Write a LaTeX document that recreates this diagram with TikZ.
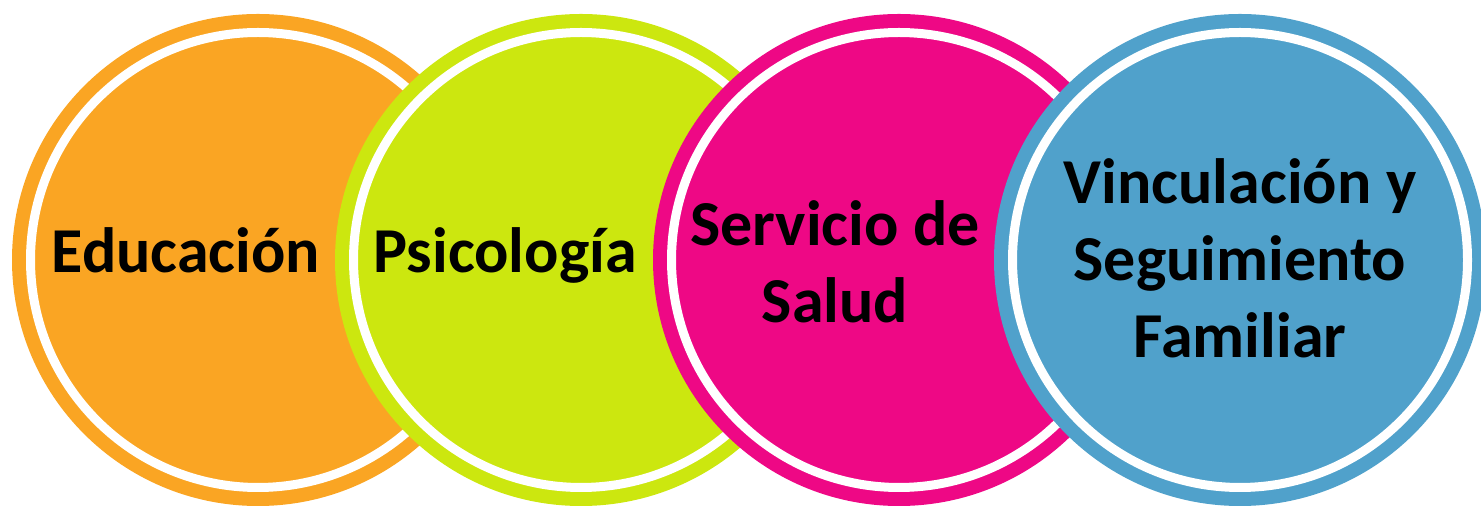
\documentclass[tikz,border=0pt]{standalone}
\usepackage{fontspec}
\setmainfont{Carlito}
\usetikzlibrary{positioning}

\definecolor{orangeC}{HTML}{FAA523}
\definecolor{limeC}{HTML}{CCE70F}
\definecolor{pinkC}{HTML}{EE0885}
\definecolor{blueC}{HTML}{50A1CB}

\tikzset{
  disc/.style={shape=circle,minimum size=246pt,inner sep=0pt,draw=none},
  ring/.style={draw=white,line width=4.5pt},
  lbl/.style={font=\fontsize{32}{38.5}\selectfont\bfseries,align=center,text=black,anchor=base}
}

\begin{document}
\begin{tikzpicture}[x=0.5pt,y=-0.5pt]
\useasboundingbox (0,0) rectangle (1481,506);
\node[disc,fill=orangeC] (edu) at (258,260) {};
\draw[ring] (edu.center) circle (113.75pt);
\node[lbl] (edu-t) at (186,273) {Educación};
\node[disc,fill=limeC] (psi) at (581,260) {};
\draw[ring] (psi.center) circle (113.75pt);
\node[lbl] (psi-t) at (505,273) {Psicología};
\node[disc,fill=pinkC] (sal) at (899,260) {};
\draw[ring] (sal.center) circle (113.75pt);
\node[lbl] (sal-t) at (835,323) {Servicio de\\Salud};
\node[disc,fill=blueC] (vin) at (1240,260) {};
\draw[ring] (vin.center) circle (113.75pt);
\node[lbl] (vin-t) at (1240,358) {Vinculación y\\Seguimiento\\Familiar};
\end{tikzpicture}
\end{document}
